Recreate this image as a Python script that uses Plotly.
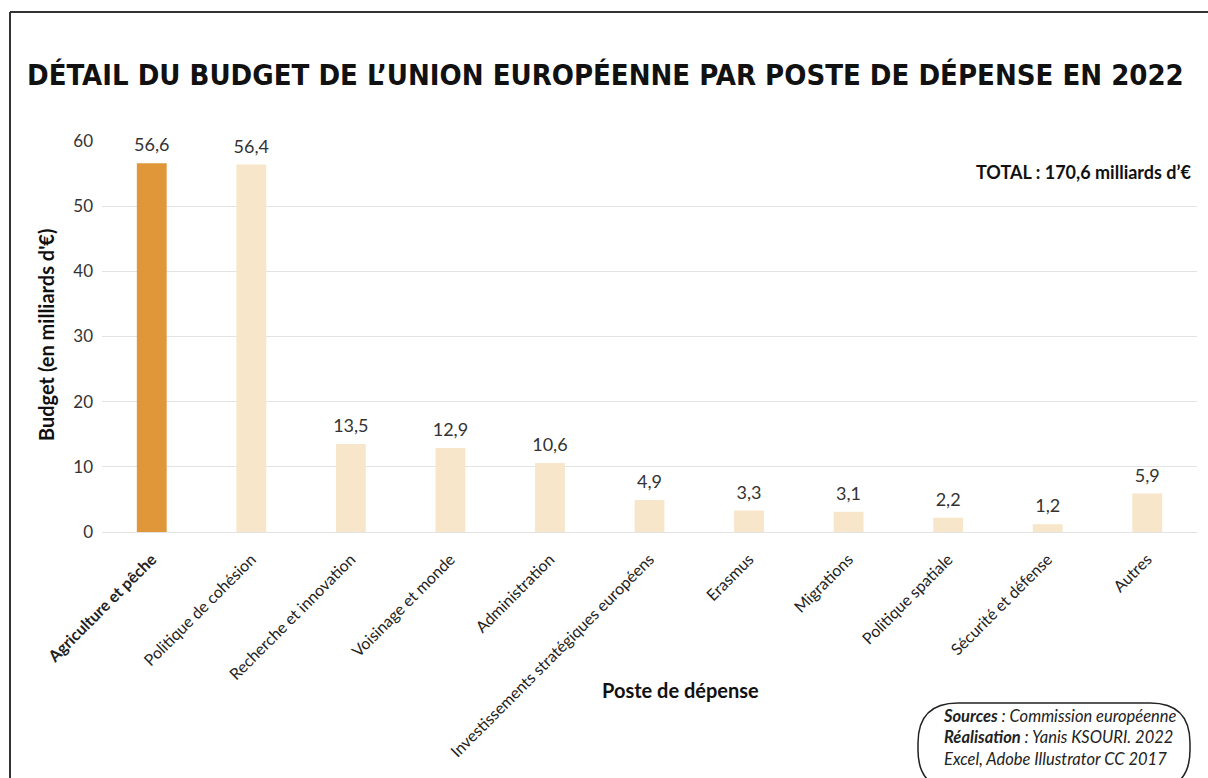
import plotly.graph_objects as go

categories = ["Agriculture et pêche", "Politique de cohésion", "Recherche et innovation",
              "Voisinage et monde", "Administration", "Investissements stratégiques européens",
              "Erasmus", "Migrations", "Politique spatiale", "Sécurité et défense", "Autres"]
values = [56.6, 56.4, 13.5, 12.9, 10.6, 4.9, 3.3, 3.1, 2.2, 1.2, 5.9]
highlight = "Agriculture et pêche"
y_ticks = [0, 10, 20, 30, 40, 50, 60]

W, H = 1208, 778
L, R, T, B = 102, 11, 141, 246
pw, ph = W - L - R, H - T - B

def px(x):
    return (x - L) / pw

def py(y):
    return (H - B - y) / ph

FONT = "Lato"
colors = ["#E0973A" if c == highlight else "#F8E6CA" for c in categories]
ticktext = [f"<b>{c}</b>" if c == highlight else c for c in categories]

fig = go.Figure()
fig.add_trace(go.Bar(
    x=categories, y=values, marker_color=colors, marker_line_width=0,
    hoverinfo="skip",
))
fig.add_trace(go.Scatter(
    x=categories, y=values, mode="markers+text",
    marker=dict(size=10, color="rgba(0,0,0,0)"),
    texttemplate="%{y:.1f}", textposition="top center", cliponaxis=False,
    textfont=dict(family=FONT, size=18, color="#333333"), hoverinfo="skip",
))

fig.update_layout(
    width=W, height=H, separators=", ",
    margin=dict(l=L, r=R, t=T, b=B, autoexpand=False),
    paper_bgcolor="#FFFFFF", plot_bgcolor="#FFFFFF",
    bargap=0.7, showlegend=False,
    font=dict(family=FONT, color="#222222"),
)
fig.update_xaxes(tickangle=-45, tickvals=categories, ticktext=ticktext,
                 range=[-0.5, len(categories) - 0.5],
                 tickfont=dict(family=FONT, size=16, color="#222222"),
                 showgrid=False, showline=False, ticks="", ticklabelstandoff=14)
fig.update_yaxes(range=[0, 60], tickvals=y_ticks, showgrid=True, gridcolor="#E3E3E3",
                 gridwidth=1, zeroline=True, zerolinecolor="#E3E3E3", zerolinewidth=1,
                 tickfont=dict(family=FONT, size=17, color="#333333"), ticks="",
                 ticklabelstandoff=8)

annotations = [
    dict(text="<b>DÉTAIL DU BUDGET DE L’UNION EUROPÉENNE PAR POSTE DE DÉPENSE EN 2022</b>",
         x=px(605), y=py(75), xref="paper", yref="paper", showarrow=False,
         xanchor="center", yanchor="middle",
         font=dict(family="DejaVu Sans Condensed", size=29, color="#111111")),
    dict(text="<b>Budget (en milliards d'€)</b>", textangle=-90,
         x=px(46), y=py(335), xref="paper", yref="paper", showarrow=False,
         xanchor="center", yanchor="middle",
         font=dict(family=FONT, size=20, color="#111111")),
    dict(text="<b>Poste de dépense</b>",
         x=px(680), y=py(690), xref="paper", yref="paper", showarrow=False,
         xanchor="center", yanchor="middle",
         font=dict(family=FONT, size=20, color="#111111")),
    dict(text="<b>TOTAL : 170,6 milliards d’€</b>",
         x=px(1193), y=py(172), xref="paper", yref="paper", showarrow=False,
         xanchor="right", yanchor="middle",
         font=dict(family=FONT, size=18, color="#111111")),
    dict(text="<i><b>Sources</b> : Commission européenne<br><b>Réalisation</b> : Yanis KSOURI. 2022<br>Excel, Adobe Illustrator CC 2017</i>",
         x=px(1179), y=py(737), xref="paper", yref="paper", showarrow=False,
         xanchor="right", yanchor="middle", align="left",
         font=dict(family=FONT, size=16.5, color="#222222")),
]
fig.update_layout(annotations=annotations)

# outer frame
shapes = [
    dict(type="line", xref="paper", yref="paper", x0=px(10), x1=px(1210), y0=py(12), y1=py(12),
         line=dict(color="#333333", width=2)),
    dict(type="line", xref="paper", yref="paper", x0=px(10), x1=px(10), y0=py(12), y1=py(780),
         line=dict(color="#333333", width=2)),
]
# rounded source box
x0, x1, y0, y1, r = 918, 1190, 703, 790, 40
path = (f"M {px(x0 + r)},{py(y0)} L {px(x1 - r)},{py(y0)} "
        f"Q {px(x1)},{py(y0)} {px(x1)},{py(y0 + r)} L {px(x1)},{py(y1 - r)} "
        f"Q {px(x1)},{py(y1)} {px(x1 - r)},{py(y1)} L {px(x0 + r)},{py(y1)} "
        f"Q {px(x0)},{py(y1)} {px(x0)},{py(y1 - r)} L {px(x0)},{py(y0 + r)} "
        f"Q {px(x0)},{py(y0)} {px(x0 + r)},{py(y0)} Z")
shapes.append(dict(type="path", xref="paper", yref="paper", path=path,
                   line=dict(color="#222222", width=1.5), fillcolor="rgba(0,0,0,0)"))
fig.update_layout(shapes=shapes)

fig.write_html("out.html", config={"displayModeBar": False},
               post_script="document.body.style.margin='0';document.body.style.overflow='hidden';")
